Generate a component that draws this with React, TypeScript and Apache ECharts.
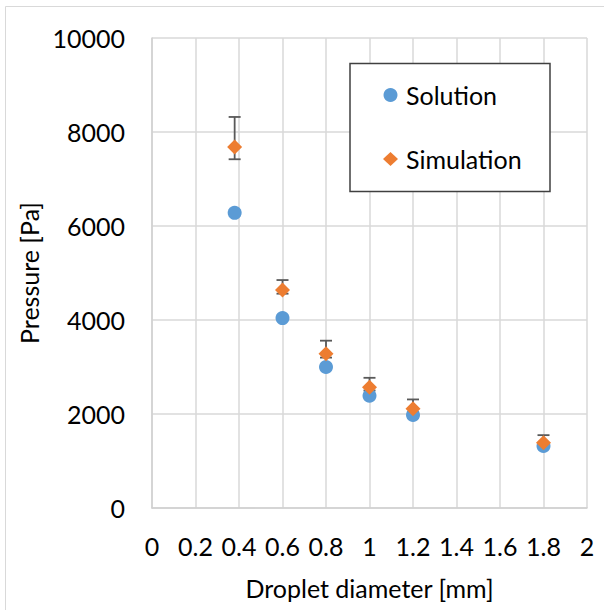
import React, { useEffect, useRef } from "react";
import * as echarts from "echarts";

const solutionX = [0.38, 0.6, 0.8, 1.0, 1.2, 1.8];
const solutionY = [6280, 4040, 3000, 2390, 1980, 1320];
const simulationX = [0.38, 0.6, 0.8, 1.0, 1.2, 1.8];
const simulationY = [7680, 4640, 3280, 2570, 2110, 1390];
const simulationLow = [7420, 4560, 3200, 2500, 2040, 1330];
const simulationHigh = [8320, 4850, 3560, 2770, 2310, 1550];

const FONT = "Lato";

export default function App() {
  const ref = useRef<HTMLDivElement>(null);
  useEffect(() => {
    const chart = echarts.init(ref.current!, null, { renderer: "svg" });
    const solData = solutionX.map((x, i) => [x, solutionY[i]]);
    const simData = simulationX.map((x, i) => [x, simulationY[i]]);
    const errData = simulationX.map((x, i) => [x, simulationLow[i], simulationHigh[i]]);
    chart.setOption({
      animation: false,
      backgroundColor: "#ffffff",
      textStyle: { fontFamily: FONT },
      grid: { left: 152, right: 17, top: 38, bottom: 102, containLabel: false },
      graphic: [
        {
          type: "rect",
          shape: { x: 5.5, y: 6.5, width: 610, height: 620 },
          style: { fill: "none", stroke: "#d9d9d9", lineWidth: 1 },
          z: -1,
        },
        {
          type: "rect",
          shape: { x: 350, y: 63.5, width: 200, height: 128 },
          style: { fill: "#ffffff", stroke: "#404040", lineWidth: 1.5 },
          z: 50,
        },
      ],
      legend: {
        data: ["Solution", "Simulation"],
        orient: "vertical",
        left: 383,
        top: 82,
        itemGap: 38,
        itemWidth: 15,
        itemHeight: 14,
        padding: 0,
        z: 60,
        textStyle: {
          fontFamily: FONT,
          fontSize: 25,
          lineHeight: 26,
          color: "#000000",
          padding: [0, 0, 0, 3],
        },
      },
      xAxis: {
        type: "value",
        min: 0,
        max: 2,
        interval: 0.2,
        name: "Droplet diameter [mm]",
        nameLocation: "middle",
        nameGap: 67,
        nameTextStyle: { fontFamily: FONT, fontSize: 25, color: "#000000" },
        axisLine: { show: true, onZero: false, lineStyle: { color: "#d0d0d0", width: 1.5 } },
        axisTick: { show: false },
        axisLabel: { fontFamily: FONT, fontSize: 25, color: "#000000", margin: 25 },
        splitLine: { show: true, lineStyle: { color: "#d9d9d9", width: 1.5 } },
      },
      yAxis: {
        type: "value",
        min: 0,
        max: 10000,
        interval: 2000,
        name: "Pressure [Pa]",
        nameLocation: "middle",
        nameGap: 108,
        nameTextStyle: { fontFamily: FONT, fontSize: 25, color: "#000000" },
        axisLine: { show: true, lineStyle: { color: "#d0d0d0", width: 1.5 } },
        axisTick: { show: false },
        axisLabel: {
          fontFamily: FONT,
          fontSize: 25,
          color: "#000000",
          margin: 27,
          formatter: (v: number) => String(v),
        },
        splitLine: { show: true, lineStyle: { color: "#d9d9d9", width: 1.5 } },
      },
      series: [
        {
          name: "errors",
          type: "custom",
          z: 1,
          encode: { x: 0, y: [1, 2] },
          data: errData,
          renderItem: (params: any, api: any) => {
            const x = api.value(0);
            const lo = api.coord([x, api.value(1)]);
            const hi = api.coord([x, api.value(2)]);
            const hw = 6;
            const st = { stroke: "#595959", lineWidth: 1.8 };
            return {
              type: "group",
              children: [
                { type: "line", shape: { x1: hi[0], y1: hi[1], x2: lo[0], y2: lo[1] }, style: st },
                { type: "line", shape: { x1: hi[0] - hw, y1: hi[1], x2: hi[0] + hw, y2: hi[1] }, style: st },
                { type: "line", shape: { x1: lo[0] - hw, y1: lo[1], x2: lo[0] + hw, y2: lo[1] }, style: st },
              ],
            };
          },
        },
        {
          name: "Solution",
          type: "scatter",
          z: 2,
          symbol: "circle",
          symbolSize: 14,
          itemStyle: { color: "#5B9BD5", opacity: 1 },
          data: solData,
        },
        {
          name: "Simulation",
          type: "scatter",
          z: 3,
          symbol: "diamond",
          symbolSize: 15,
          itemStyle: { color: "#ED7D31", opacity: 1 },
          data: simData,
        },
      ],
    });
    return () => chart.dispose();
  }, []);
  return (
    <div
      ref={ref}
      style={{ position: "fixed", left: 0, top: 0, width: 604, height: 610 }}
    />
  );
}
